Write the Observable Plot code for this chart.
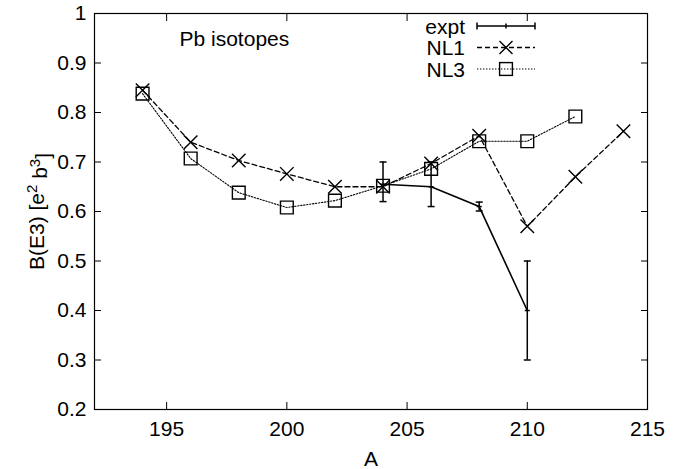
<!DOCTYPE html>
<html><head><meta charset="utf-8">
<script src="https://cdn.jsdelivr.net/npm/d3@7"></script>
<script src="https://cdn.jsdelivr.net/npm/@observablehq/plot@0.6"></script>
<style>body{margin:0;background:#fff} #chart{width:681px;height:469px}</style>
</head><body><div id="chart"></div>
<script>
// ---- data ----
const massNL1 = [194, 196, 198, 200, 202, 204, 206, 208, 210, 212, 214];
const bE3NL1  = [0.845, 0.740, 0.703, 0.676, 0.650, 0.650, 0.697, 0.753, 0.570, 0.670, 0.762];
const massNL3 = [194, 196, 198, 200, 202, 204, 206, 208, 210, 212];
const bE3NL3  = [0.838, 0.707, 0.638, 0.608, 0.622, 0.652, 0.686, 0.742, 0.742, 0.792];
const massExpt = [204, 206, 208, 210];
const bE3Expt  = [0.655, 0.650, 0.610, 0.400];
const exptLo   = [0.620, 0.610, 0.601, 0.300];
const exptHi   = [0.700, 0.700, 0.619, 0.500];
const xTicks = [195, 200, 205, 210, 215];
const yTicks = [0.2, 0.3, 0.4, 0.5, 0.6, 0.7, 0.8, 0.9, 1];
const legendLabels = ["expt", "NL1", "NL3"];
const annotation = "Pb isotopes";
const xLabel = "A";
const yLabelParts = [["B(E3) [e", false], ["2", true], [" b", false], ["3", true], ["]", false]];
const yLabel = yLabelParts.map(p => p[0]).join("");

const nl1 = massNL1.map((a, i) => ({A: a, B: bE3NL1[i]}));
const nl3 = massNL3.map((a, i) => ({A: a, B: bE3NL3[i]}));
const expt = massExpt.map((a, i) => ({A: a, B: bE3Expt[i], lo: exptLo[i], hi: exptHi[i]}));

const font = "'Liberation Sans', Arial, Helvetica, sans-serif";
const hbar = (w) => ({draw(ctx) { ctx.moveTo(-w, 0); ctx.lineTo(w, 0); }});

const plot = Plot.plot({
  width: 681, height: 469,
  marginLeft: 94, marginRight: 34, marginTop: 13, marginBottom: 60,
  style: {fontFamily: font, fontSize: "21px", background: "white", color: "black"},
  x: {domain: [192, 215]},
  y: {domain: [0.2, 1]},
  marks: [
    // inward ticks on all four sides
    Plot.axisX({ticks: xTicks, anchor: "bottom", tickSize: -7, tickFormat: () => "", label: null}),
    Plot.axisX({ticks: xTicks, anchor: "top", tickSize: -7, tickFormat: () => "", label: null}),
    Plot.axisY({ticks: yTicks, anchor: "left", tickSize: -7, tickFormat: () => "", label: null}),
    Plot.axisY({ticks: yTicks, anchor: "right", tickSize: -7, tickFormat: () => "", label: null}),
    // tick labels
    Plot.axisX({ticks: xTicks, anchor: "bottom", tickSize: 0, tickPadding: 12, fontSize: 21, label: null}),
    Plot.axisY({ticks: yTicks, anchor: "left", tickSize: 0, tickPadding: 8, fontSize: 21, label: null, tickFormat: d => String(d)}),
    Plot.frame({stroke: "black", strokeWidth: 1.2}),
    // NL3 dotted
    Plot.line(nl3, {x: "A", y: "B", stroke: "black", strokeWidth: 1.1, strokeDasharray: "1.4,1.6"}),
    Plot.dot(nl3, {x: "A", y: "B", symbol: "square", r: 7.2, stroke: "black", fill: "none", strokeWidth: 1.4}),
    // NL1 dashed
    Plot.line(nl1, {x: "A", y: "B", stroke: "black", strokeWidth: 1.3, strokeDasharray: "5,3"}),
    Plot.dot(nl1, {x: "A", y: "B", symbol: "times", r: 6.2, stroke: "black", fill: "none", strokeWidth: 1.4}),
    // expt solid with error bars
    Plot.line(expt, {x: "A", y: "B", stroke: "black", strokeWidth: 1.6}),
    Plot.ruleX(expt, {x: "A", y1: "lo", y2: "hi", stroke: "black", strokeWidth: 1.5}),
    Plot.dot(expt, {x: "A", y: "lo", symbol: hbar(3.5), stroke: "black", strokeWidth: 1.5}),
    Plot.dot(expt, {x: "A", y: "hi", symbol: hbar(3.5), stroke: "black", strokeWidth: 1.5}),
    Plot.dot(expt, {x: "A", y: "B", symbol: hbar(2.5), stroke: "black", strokeWidth: 1.5}),
    // texts
    Plot.text([annotation], {frameAnchor: "top-left", dx: 85, dy: 32, lineAnchor: "bottom", textAnchor: "start", fontSize: 21}),
    Plot.text([xLabel], {frameAnchor: "bottom", dy: 56, lineAnchor: "bottom", fontSize: 21}),
    Plot.text([yLabel], {frameAnchor: "left", dx: -57, rotate: -90, textAnchor: "middle", lineAnchor: "middle", fontSize: 21})
  ]
});

const svg = d3.select(plot);

// rebuild the y label with real superscripts
svg.selectAll("text").filter(function() { return this.textContent === yLabel; }).each(function() {
  const t = d3.select(this);
  const dyAttr = t.attr("dy");
  t.text(null);
  if (dyAttr) t.attr("dy", dyAttr);
  let prevSup = false;
  yLabelParts.forEach(([s, sup]) => {
    const sp = t.append("tspan").text(s);
    if (sup && !prevSup) sp.attr("dy", "-0.45em").attr("font-size", 15);
    else if (sup) sp.attr("font-size", 15);
    else if (prevSup) sp.attr("dy", "0.45em");
    prevSup = sup;
  });
});

// legend (top right, inside frame)
const lg = svg.append("g").attr("fill", "none").attr("stroke", "black");
const x0 = 477, x1 = 535, xm = 506, textX = 465;
legendLabels.forEach((lab, i) => {
  const y = 26 + i * 21.5;
  svg.append("text").text(lab).attr("x", textX).attr("y", y + 7.5)
    .attr("text-anchor", "end").attr("font-size", 21).attr("font-family", font).attr("fill", "black");
  if (i === 0) {
    lg.append("line").attr("x1", x0).attr("x2", x1).attr("y1", y).attr("y2", y).attr("stroke-width", 1.6);
    lg.append("line").attr("x1", x0).attr("x2", x0).attr("y1", y - 3.5).attr("y2", y + 3.5).attr("stroke-width", 1.5);
    lg.append("line").attr("x1", x1).attr("x2", x1).attr("y1", y - 3.5).attr("y2", y + 3.5).attr("stroke-width", 1.5);
    lg.append("line").attr("x1", xm).attr("x2", xm).attr("y1", y - 2.5).attr("y2", y + 2.5).attr("stroke-width", 1.5);
  } else if (i === 1) {
    lg.append("line").attr("x1", x0).attr("x2", x1).attr("y1", y).attr("y2", y).attr("stroke-width", 1.3).attr("stroke-dasharray", "5,3");
    lg.append("path").attr("d", `M${xm-6.5},${y-6.5}L${xm+6.5},${y+6.5}M${xm-6.5},${y+6.5}L${xm+6.5},${y-6.5}`).attr("stroke-width", 1.4);
  } else {
    lg.append("line").attr("x1", x0).attr("x2", x1).attr("y1", y).attr("y2", y).attr("stroke-width", 1.1).attr("stroke-dasharray", "1.4,1.6");
    lg.append("rect").attr("x", xm - 6.4).attr("y", y - 6.4).attr("width", 12.8).attr("height", 12.8).attr("stroke-width", 1.4);
  }
});

document.getElementById("chart").appendChild(plot);
</script>
</body></html>
